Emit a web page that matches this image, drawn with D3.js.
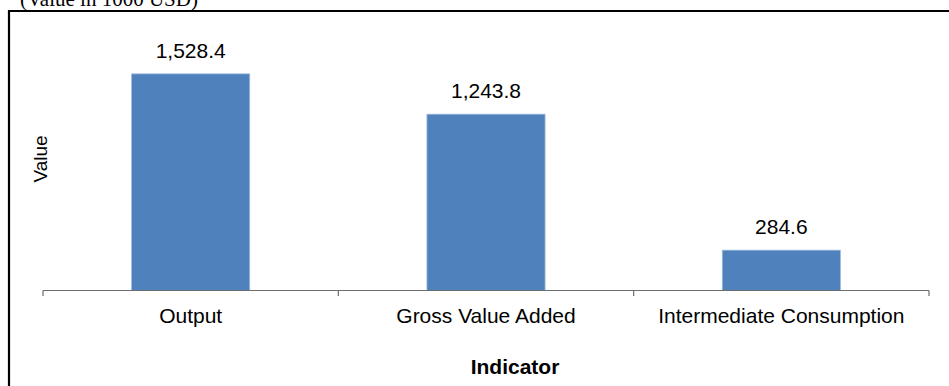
<!DOCTYPE html>
<html>
<head>
<meta charset="utf-8">
<script src="https://cdn.jsdelivr.net/npm/d3@7"></script>
<style>
  html, body { margin: 0; padding: 0; background: #ffffff; }
  svg { display: block; }
</style>
</head>
<body>
<svg id="chart" width="949" height="386"></svg>
<script>
// Indicator values, in thousands of USD
const categories = ["Output", "Gross Value Added", "Intermediate Consumption"];
const values = [1528.4, 1243.8, 284.6];
const valueLabels = ["1,528.4", "1,243.8", "284.6"];

const svg = d3.select("#chart");
const W = 949, H = 386;
const baseY = 290.5;
const sans = "'Liberation Sans', Arial, sans-serif";

// Unit caption above the frame
svg.append("text")
  .attr("x", 20).attr("y", 6)
  .attr("font-family", "'Liberation Serif', 'Times New Roman', serif")
  .attr("font-size", 21)
  .attr("fill", "#000")
  .text("(Value in 1000 USD)");

// Frame around the chart area
svg.append("path")
  .attr("d", `M9,${H + 2} V11 H${W + 2}`)
  .attr("fill", "none")
  .attr("stroke", "#000")
  .attr("stroke-width", 2.2);

const x = d3.scaleBand()
  .domain(categories)
  .range([43, 929])
  .paddingInner(0.6)
  .paddingOuter(0.3);

const y = d3.scaleLinear()
  .domain([0, 2000])
  .range([baseY, 7]);

// Bars
svg.append("g")
  .selectAll("rect")
  .data(categories)
  .join("rect")
  .attr("x", d => x(d))
  .attr("y", (d, i) => y(values[i]))
  .attr("width", x.bandwidth())
  .attr("height", (d, i) => y(0) - y(values[i]))
  .attr("fill", "#4f81bd")
  .attr("stroke", "#9fbbdc")
  .attr("stroke-width", 0.8);

// Value labels above the bars
svg.append("g")
  .selectAll("text")
  .data(categories)
  .join("text")
  .attr("x", d => x(d) + x.bandwidth() / 2)
  .attr("y", (d, i) => y(values[i]) - 16)
  .attr("text-anchor", "middle")
  .attr("font-family", sans)
  .attr("font-size", 21)
  .attr("fill", "#000")
  .text((d, i) => valueLabels[i]);

// Category axis: labels from the band scale, ticks between categories
const axis = svg.append("g")
  .attr("transform", `translate(0,${baseY})`)
  .call(d3.axisBottom(x).tickSize(0).tickPadding(18));
axis.select(".domain").remove();
axis.selectAll("text")
  .attr("font-family", sans)
  .attr("font-size", 21)
  .attr("fill", "#000");

svg.append("line")
  .attr("x1", x.range()[0]).attr("x2", x.range()[1])
  .attr("y1", baseY).attr("y2", baseY)
  .attr("stroke", "#6d6d6d").attr("stroke-width", 1.2);

const bounds = categories.map(d => x(d) + x.bandwidth() / 2 - x.step() / 2);
bounds.push(bounds[bounds.length - 1] + x.step());
svg.append("g")
  .selectAll("line")
  .data(bounds)
  .join("line")
  .attr("x1", d => d).attr("x2", d => d)
  .attr("y1", baseY).attr("y2", baseY + 5.5)
  .attr("stroke", "#6d6d6d").attr("stroke-width", 1.2);

// Axis titles
svg.append("text")
  .attr("transform", `translate(47,159) rotate(-90)`)
  .attr("text-anchor", "middle")
  .attr("font-family", sans)
  .attr("font-size", 19)
  .attr("fill", "#000")
  .text("Value");

svg.append("text")
  .attr("x", 515)
  .attr("y", 374)
  .attr("text-anchor", "middle")
  .attr("font-family", sans)
  .attr("font-size", 21)
  .attr("font-weight", "bold")
  .attr("fill", "#000")
  .text("Indicator");
</script>
</body>
</html>
